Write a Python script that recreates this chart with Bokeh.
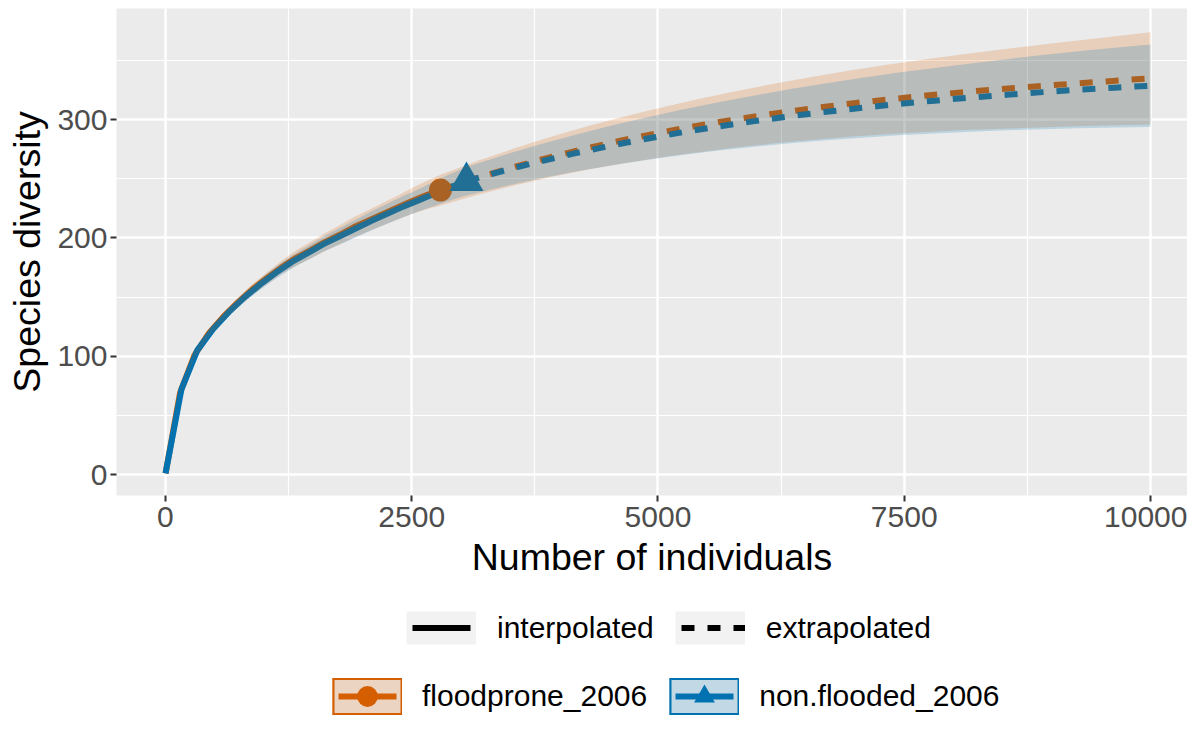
from bokeh.plotting import figure
from bokeh.models import Range1d, FixedTicker, Legend, LegendItem
from bokeh.layouts import column
from bokeh.embed import file_html
from bokeh.resources import INLINE

# ---------------- data ----------------
# floodprone_2006 : interpolated part
fp_int_m = [1, 148, 295, 441, 588, 735, 882, 1029, 1176, 1323, 1470, 1617, 1764, 1910, 2057, 2204, 2351, 2498, 2645, 2792]
fp_int_s = [1.0, 69.0, 101.0, 119.5, 133.5, 145.5, 156.5, 166.0, 175.0, 183.0, 189.5, 196.5, 202.5, 209.0, 214.5, 220.0, 225.5, 231.0, 236.0, 240.5]
fp_int_lo = [1.0, 67.5, 98.5, 116.5, 130.0, 141.5, 152.0, 161.0, 169.5, 176.5, 182.5, 189.0, 194.5, 200.5, 205.5, 210.5, 215.5, 220.0, 224.0, 227.5]
fp_int_hi = [1.0, 70.5, 103.5, 122.5, 137.0, 149.5, 161.0, 171.0, 180.5, 189.5, 196.5, 204.0, 210.5, 217.5, 223.5, 229.5, 235.5, 242.0, 248.0, 253.5]
# floodprone_2006 : extrapolated part
fp_ext_m = [2792, 3172, 3552, 3931, 4310, 4690, 5069, 5448, 5827, 6207, 6586, 6965, 7345, 7724, 8103, 8483, 8862, 9241, 9621, 10000]
fp_ext_s = [240.5, 250.9, 260.3, 268.8, 276.5, 283.5, 289.8, 295.6, 300.8, 305.5, 309.8, 313.7, 317.2, 320.4, 323.3, 325.9, 328.3, 330.6, 332.8, 335.0]
fp_ext_lo = [227.5, 236.5, 244.6, 251.7, 258.0, 263.7, 268.6, 273.0, 276.9, 280.2, 283.1, 285.7, 287.8, 289.6, 291.2, 292.4, 293.4, 294.4, 295.2, 296.0]
fp_ext_hi = [253.5, 265.3, 276.0, 285.9, 295.0, 303.3, 311.0, 318.2, 324.7, 330.8, 336.5, 341.7, 346.6, 351.2, 355.4, 359.4, 363.2, 366.8, 370.4, 374.0]

# non.flooded_2006 : interpolated part
nf_int_m = [1, 162, 323, 484, 644, 805, 966, 1127, 1288, 1448, 1609, 1770, 1931, 2092, 2252, 2413, 2574, 2735, 2896, 3056]
nf_int_s = [1.0, 72.0, 105.0, 123.0, 137.5, 150.0, 161.0, 171.0, 180.0, 187.5, 195.0, 201.5, 208.0, 214.5, 220.5, 226.5, 232.0, 237.7, 243.0, 248.0]
nf_int_lo = [1.0, 70.5, 102.5, 120.0, 134.0, 146.0, 156.5, 166.0, 174.5, 181.5, 188.5, 194.5, 200.5, 206.5, 212.0, 217.5, 222.5, 227.2, 231.8, 236.0]
nf_int_hi = [1.0, 73.5, 107.5, 126.0, 141.0, 154.0, 165.5, 176.0, 185.5, 193.5, 201.5, 208.5, 215.5, 222.5, 229.0, 235.5, 241.5, 248.2, 254.2, 260.0]
# non.flooded_2006 : extrapolated part
nf_ext_m = [3056, 3422, 3788, 4153, 4519, 4884, 5250, 5615, 5980, 6346, 6711, 7077, 7442, 7808, 8173, 8539, 8904, 9269, 9635, 10000]
nf_ext_s = [248.0, 256.6, 264.4, 271.5, 278.0, 283.9, 289.4, 294.3, 298.8, 303.0, 306.7, 310.1, 313.3, 316.1, 318.7, 321.1, 323.3, 325.3, 327.1, 328.7]
nf_ext_lo = [236.0, 243.4, 250.0, 255.9, 261.2, 265.9, 270.2, 273.9, 277.2, 280.1, 282.6, 284.8, 286.8, 288.4, 289.8, 291.0, 292.0, 292.8, 293.4, 293.8]
nf_ext_hi = [260.0, 269.8, 278.8, 287.1, 294.8, 301.9, 308.6, 314.7, 320.4, 325.9, 330.8, 335.4, 339.8, 343.8, 347.6, 351.2, 354.6, 357.8, 360.8, 363.6]

# observed samples (reference points)
sites = ["floodprone_2006", "non.flooded_2006"]
obs_m = [2792, 3056]
obs_s = [240.5, 248.0]

# axis ticks
x_ticks = [0, 2500, 5000, 7500, 10000]
x_minor = [1250, 3750, 6250, 8750]
y_ticks = [0, 100, 200, 300]
y_minor = [50, 150, 250, 350]
method_labels = ["interpolated", "extrapolated"]

# ---------------- styling ----------------
ORANGE = "#D55E00"
BLUE = "#0072B2"
FONT = "Liberation Sans"
NAN = [float("nan")]
W = 1187

p = figure(width=W, height=595, output_backend="svg", toolbar_location=None,
           x_range=Range1d(-497, 10376), y_range=Range1d(-17.7, 394),
           min_border_left=116, min_border_right=0, min_border_top=8, min_border_bottom=100,
           background_fill_color="#EBEBEB", border_fill_color="white",
           outline_line_color=None)

p.xaxis.ticker = FixedTicker(ticks=x_ticks, minor_ticks=x_minor)
p.yaxis.ticker = FixedTicker(ticks=y_ticks, minor_ticks=y_minor)
p.xaxis.axis_label = "Number of individuals"
p.yaxis.axis_label = "Species diversity"
for ax in (p.xaxis, p.yaxis):
    ax.axis_line_color = None
    ax.minor_tick_line_color = None
    ax.major_tick_line_color = "#333333"
    ax.major_tick_line_width = 2
    ax.major_tick_out = 6
    ax.major_tick_in = 0
    ax.major_label_text_font = FONT
    ax.major_label_text_font_size = "30px"
    ax.major_label_text_color = "#4D4D4D"
    ax.axis_label_text_font = FONT
    ax.axis_label_text_font_size = "37.5px"
    ax.axis_label_text_font_style = "normal"
    ax.axis_label_text_color = "black"
p.xaxis.major_label_standoff = 5
p.xaxis.axis_label_standoff = 6
p.yaxis.major_label_standoff = 3
p.yaxis.axis_label_standoff = 6

p.grid.grid_line_color = "white"
p.grid.grid_line_width = 2.5
p.grid.minor_grid_line_color = "white"
p.grid.minor_grid_line_width = 1.2

# curves (drawn first, the confidence ribbons lie over them as in iNEXT)
p.line(fp_int_m, fp_int_s, line_color=ORANGE, line_width=6, line_join="round")
p.line(fp_ext_m, fp_ext_s, line_color=ORANGE, line_width=6, line_dash="13 13")
p.line(nf_int_m, nf_int_s, line_color=BLUE, line_width=6, line_join="round")
p.line(nf_ext_m, nf_ext_s, line_color=BLUE, line_width=6, line_dash="13 13")
p.scatter(obs_m[:1], obs_s[:1], marker="circle", size=23, fill_color=ORANGE, line_color=None)
p.scatter(obs_m[1:], obs_s[1:], marker="triangle", size=34, fill_color=BLUE, line_color=None)

p.varea(x=fp_int_m + fp_ext_m[1:], y1=fp_int_lo + fp_ext_lo[1:], y2=fp_int_hi + fp_ext_hi[1:],
        fill_color=ORANGE, fill_alpha=0.2)
p.varea(x=nf_int_m + nf_ext_m[1:], y1=nf_int_lo + nf_ext_lo[1:], y2=nf_int_hi + nf_ext_hi[1:],
        fill_color=BLUE, fill_alpha=0.2)

# ---------------- legend strip below the chart ----------------
lg = figure(width=W, height=120, output_backend="svg", toolbar_location=None,
            x_range=Range1d(0, 1), y_range=Range1d(0, 1),
            x_axis_type=None, y_axis_type=None,
            min_border_left=0, min_border_right=0, min_border_top=0, min_border_bottom=0,
            background_fill_color="white", border_fill_color="white", outline_line_color=None)
lg.grid.visible = False

# key-only renderers hold a single NaN point, so only their legend keys are drawn
key_box = lg.line(NAN, NAN, line_color="#F2F2F2", line_width=33)
key_solid = lg.line(NAN, NAN, line_color="black", line_width=6,
                    line_dash="58 12", line_dash_offset=64)
key_dash = lg.line(NAN, NAN, line_color="black", line_width=6,
                   line_dash="13 13", line_dash_offset=20)

leg1 = Legend(items=[LegendItem(label=method_labels[0], renderers=[key_box, key_solid]),
                     LegendItem(label=method_labels[1], renderers=[key_box, key_dash])],
              orientation="horizontal", location=(290, 69),
              glyph_width=70, glyph_height=37, label_standoff=21, spacing=21,
              margin=0, padding=0, border_line_color=None, background_fill_alpha=0,
              label_text_font=FONT, label_text_font_size="30px", label_text_color="black")


def site_key(color, fill, marker):
    border = lg.line(NAN, NAN, line_color=color, line_width=37)
    inner = lg.line(NAN, NAN, line_color=fill, line_width=33)
    sides = lg.line(NAN, NAN, line_color=color, line_width=37, line_dash="2 66 2")
    ln = lg.line(NAN, NAN, line_color=color, line_width=6, line_dash="58 12", line_dash_offset=64)
    mk = lg.scatter(NAN, NAN, marker=marker, fill_color=color, line_color=None)
    return [border, inner, sides, ln, mk]


leg2 = Legend(items=[LegendItem(label=sites[0], renderers=site_key(ORANGE, "#ECD4C2", "circle")),
                     LegendItem(label=sites[1], renderers=site_key(BLUE, "#C2D8E5", "triangle"))],
              orientation="horizontal", location=(216, -7),
              glyph_width=70, glyph_height=52, label_standoff=20, spacing=22,
              margin=0, padding=0, border_line_color=None, background_fill_alpha=0,
              label_text_font=FONT, label_text_font_size="30px", label_text_color="black")

lg.add_layout(leg1, "center")
lg.add_layout(leg2, "center")

open("out.html", "w").write(file_html(column(p, lg, spacing=0), INLINE))
